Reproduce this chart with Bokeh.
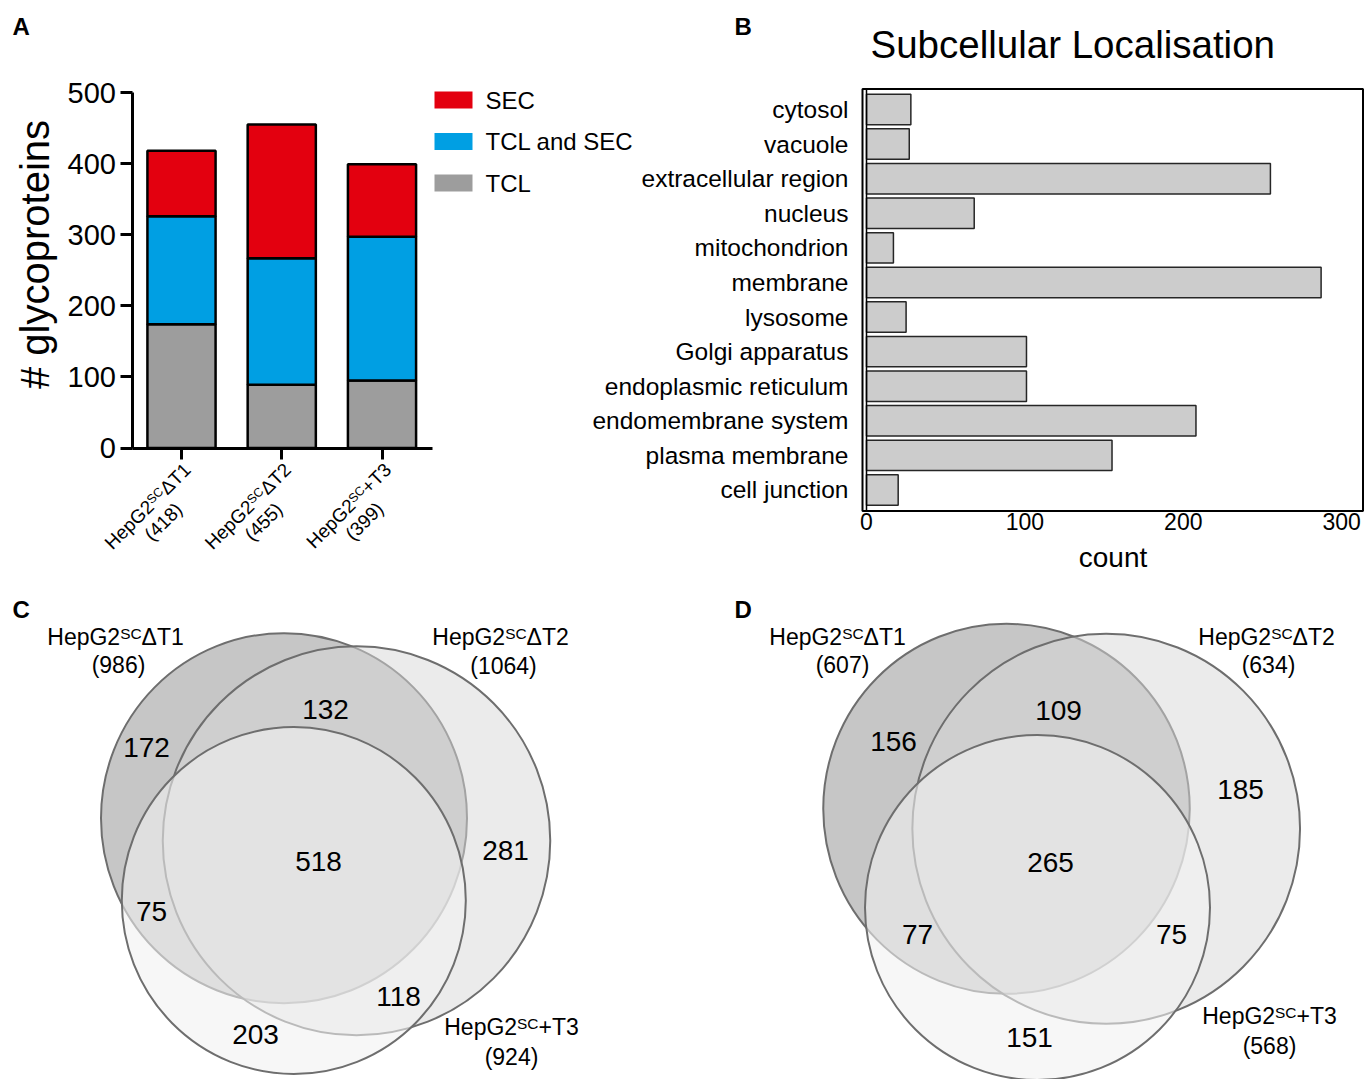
import math
from bokeh.plotting import figure
from bokeh.models import LinearAxis, FixedTicker, Range1d, ColumnDataSource
from bokeh.layouts import column
from bokeh.embed import file_html
from bokeh.resources import INLINE
from bokeh.core.properties import value

FONT = "Liberation Sans"

# ---------------- data ----------------
# Panel A : stacked bars
a_prefix = ["HepG2", "HepG2", "HepG2"]
a_sup = ["SC", "SC", "SC"]
a_suffix = ["\u0394T1", "\u0394T2", "+T3"]
a_totals = [418, 455, 399]
tcl = [174, 89, 95]
tcl_and_sec = [152, 178, 202]
sec = [92, 188, 102]
series_names = ["TCL", "TCL and SEC", "SEC"]
series_colors = ["#9d9d9d", "#009fe3", "#e3000f"]
a_yticks = [0, 100, 200, 300, 400, 500]
a_ylabel = "# glycoproteins"

# Panel B : horizontal bars
locations = ["cytosol", "vacuole", "extracellular region", "nucleus", "mitochondrion",
             "membrane", "lysosome", "Golgi apparatus", "endoplasmic reticulum",
             "endomembrane system", "plasma membrane", "cell junction"]
counts = [28, 27, 255, 68, 17, 287, 25, 101, 101, 208, 155, 20]
b_xticks = [0, 100, 200, 300]
b_title = "Subcellular Localisation"
b_xlabel = "count"

# Panels C / D : Venn diagrams
venn_prefix = ["HepG2", "HepG2", "HepG2"]
venn_sup = ["SC", "SC", "SC"]
venn_suffix = ["\u0394T1", "\u0394T2", "+T3"]
venn_fill = ["#c6c6c6", "#d8d8d8", "#f1f1f1"]
venn_alpha = [1.0, 0.5, 0.58]

c_totals = [986, 1064, 924]
c_ell_x = [283.5, 356.0, 293.3]
c_ell_y = [817.7, 840.3, 900.0]
c_ell_w = [366.0, 387.5, 344.0]
c_ell_h = [370.0, 389.0, 347.0]
c_counts = [172, 132, 281, 75, 518, 118, 203]
c_count_x = [146, 325, 505, 151, 318, 398, 255]
c_count_y = [747, 709, 850, 911, 861, 996, 1034]
c_label_x = [115, 500, 511]
c_label_y = [636, 636, 1026]
c_total_x = [118, 503, 511]
c_total_y = [664, 665, 1056]

d_totals = [607, 634, 568]
d_ell_x = [1006.0, 1105.7, 1037.0]
d_ell_y = [808.3, 828.3, 907.0]
d_ell_w = [366.5, 387.7, 345.0]
d_ell_h = [370.0, 390.0, 345.0]
d_counts = [156, 109, 185, 77, 265, 75, 151]
d_count_x = [893, 1058, 1240, 917, 1050, 1171, 1029]
d_count_y = [741, 710, 789, 934, 862, 934, 1037]
d_label_x = [837, 1266, 1269]
d_label_y = [636, 636, 1015]
d_total_x = [842, 1268, 1269]
d_total_y = [664, 664, 1045]

# --------------- helpers ---------------
WID = {'H': .722, 'e': .556, 'p': .556, 'G': .778, 'S': .667, 'C': .722,
       '\u0394': .668, 'T': .611, '+': .584, '(': .333, ')': .333}


def tw(s, size):
    return sum(WID.get(ch, .556) for ch in s) * size


def style_text(r, size, bold=False, align="left"):
    g = r.glyph
    g.text_font = value(FONT)
    g.text_font_size = size
    g.text_color = "black"
    g.text_align = align
    g.text_baseline = "alphabetic"
    if bold:
        g.text_font_style = "bold"


def base_fig(w, h, xr, yr):
    p = figure(width=w, height=h, x_range=xr, y_range=yr, output_backend="svg",
               toolbar_location=None, x_axis_location=None, y_axis_location=None,
               min_border=0)
    p.outline_line_color = None
    p.background_fill_color = "white"
    p.border_fill_color = "white"
    p.xgrid.visible = False
    p.ygrid.visible = False
    return p


TOP_W, TOP_H = 1365, 588
BOT_H = 491

# ---------------- Panel A (default ranges of top figure) ----------------
A_CAT1, A_STEP = 181.0, 100.25
A_ZERO, A_SCALE = 447.5, 0.711


def ax(px):
    return 1 + (px - A_CAT1) / A_STEP


def ay(py):
    return (A_ZERO - py) / A_SCALE


# ---------------- Panel B (extra ranges) ----------------
B_ZERO, B_SCALE = 866.0, 1.584
B_TOP, B_STEP = 109.0, 34.59
NCAT = len(locations)


def bx(px):
    return (px - B_ZERO) / B_SCALE


def by(py):
    return NCAT - (py - B_TOP) / B_STEP


top = base_fig(TOP_W, TOP_H, Range1d(ax(0), ax(TOP_W)), Range1d(ay(TOP_H), ay(0)))
top.extra_x_ranges = {"bx": Range1d(bx(0), bx(TOP_W))}
top.extra_y_ranges = {"by": Range1d(by(TOP_H), by(0))}

# ---- A: bars
xs = [i + 1 for i in range(len(a_totals))]
src = ColumnDataSource(dict(x=xs, **{n: v for n, v in zip(series_names, [tcl, tcl_and_sec, sec])}))
top.vbar_stack(series_names, x='x', width=0.68, fill_color=series_colors,
               line_color="black", line_width=2.5, source=src)

yax = LinearAxis(fixed_location=ax(131.5), bounds=(0, 500), ticker=FixedTicker(ticks=a_yticks))
yax.axis_line_width = 3
yax.axis_line_color = "black"
yax.major_tick_line_width = 3
yax.major_tick_out = 12
yax.major_tick_in = 0
yax.minor_tick_line_color = None
yax.major_label_text_font = FONT
yax.major_label_text_font_size = "29px"
yax.major_label_text_color = "black"
yax.major_label_standoff = 4
top.add_layout(yax, "left")

r = top.text(x=[ax(34)], y=[ay(254)], text=[a_ylabel], angle=math.pi / 2)
style_text(r, "40px", align="center")

xax = LinearAxis(fixed_location=0, bounds=(ax(131.5), ax(432)), ticker=FixedTicker(ticks=xs))
xax.axis_line_width = 3
xax.axis_line_color = "black"
xax.major_tick_line_width = 3
xax.major_tick_out = 11
xax.major_tick_in = 0
xax.minor_tick_line_color = None
xax.major_label_text_color = None
top.add_layout(xax, "below")

# rotated category labels (anchored on the cap-centre line of the text)
ang = math.pi / 4
ux, uy = math.cos(ang), -math.sin(ang)
upx, upy = -math.sin(ang), -math.cos(ang)
f1, fs = 19.0, 12.5
rise = 0.358 * (f1 - fs)
ex, ey = 6.0, 466.0 - A_ZERO
LH = 22.0
groups = {k: dict(x=[], y=[], t=[], xo=[], yo=[]) for k in ("pre", "sup", "suf", "tot")}
for i in range(len(a_totals)):
    w1, w2, w3 = tw(a_prefix[i], f1), tw(a_sup[i], fs), tw(a_suffix[i], f1)
    L = w1 + w2 + w3
    sx, sy = ex - L * ux, ey - L * uy
    items = [("pre", a_prefix[i], sx, sy),
             ("sup", a_sup[i], sx + w1 * ux + rise * upx, sy + w1 * uy + rise * upy),
             ("suf", a_suffix[i], sx + (w1 + w2) * ux, sy + (w1 + w2) * uy),
             ("tot", "(%d)" % a_totals[i], ex - L / 2 * ux - LH * upx, ey - L / 2 * uy - LH * upy)]
    for k, t, ox, oy in items:
        groups[k]["x"].append(xs[i])
        groups[k]["y"].append(0)
        groups[k]["t"].append(t)
        groups[k]["xo"].append(ox)
        groups[k]["yo"].append(oy)
for k, d in groups.items():
    r = top.text(x="x", y="y", text="t", x_offset="xo", y_offset="yo", angle=ang,
                 source=ColumnDataSource(d))
    style_text(r, "%.1fpx" % (fs if k == "sup" else f1), align="center" if k == "tot" else "left")

# legend
leg_rows = [99.5, 141.0, 182.5]
order = [2, 1, 0]
top.quad(left=ax(434), right=ax(472), top=[ay(c - 8.5) for c in leg_rows],
         bottom=[ay(c + 8.5) for c in leg_rows], fill_color=[series_colors[k] for k in order],
         line_color=None)
r = top.text(x=[ax(485)] * 3, y=[ay(c) for c in leg_rows], text=[series_names[k] for k in order])
style_text(r, "24px")
r = top.text(x=[ax(12)], y=[ay(25.5)], text=["A"])
style_text(r, "24px", bold=True)

# ---- B: bars
pos = [NCAT - i for i in range(NCAT)]
top.hbar(y=pos, left=0, right=counts, height=0.88, fill_color="#cccccc",
         line_color="#262626", line_width=1.5, x_range_name="bx", y_range_name="by")
top.quad(left=[bx(862.0)], right=[bx(1362.5)], top=[by(88.5)], bottom=[by(510.5)],
         fill_color=None, line_color="black", line_width=2, x_range_name="bx", y_range_name="by")

byax = LinearAxis(x_range_name="bx", y_range_name="by", fixed_location=0,
                  bounds=(by(510.5), by(88.5)), ticker=FixedTicker(ticks=pos),
                  major_label_overrides={p_: n for p_, n in zip(pos, locations)})
byax.axis_line_color = "black"
byax.axis_line_width = 1.5
byax.major_tick_line_color = None
byax.minor_tick_line_color = None
byax.major_tick_out = 0
byax.major_tick_in = 0
byax.major_label_standoff = 18
byax.major_label_text_font = FONT
byax.major_label_text_font_size = "24.5px"
byax.major_label_text_color = "black"
top.add_layout(byax, "left")

bxax = LinearAxis(x_range_name="bx", y_range_name="by", fixed_location=by(510.5),
                  bounds=(bx(862.0), bx(1362.5)), ticker=FixedTicker(ticks=b_xticks),
                  axis_label=b_xlabel)
bxax.axis_line_color = None
bxax.major_tick_line_color = None
bxax.minor_tick_line_color = None
bxax.major_tick_out = 0
bxax.major_tick_in = 0
bxax.major_label_standoff = 2
bxax.major_label_text_font = FONT
bxax.major_label_text_font_size = "23px"
bxax.major_label_text_color = "black"
bxax.axis_label_text_font = FONT
bxax.axis_label_text_font_size = "28px"
bxax.axis_label_text_font_style = "normal"
bxax.axis_label_text_color = "black"
bxax.axis_label_standoff = 8
top.add_layout(bxax, "below")

r = top.text(x=[bx(870)], y=[by(43.5)], text=[b_title], x_range_name="bx", y_range_name="by")
style_text(r, "38.5px")
r = top.text(x=[bx(734)], y=[by(25.5)], text=["B"], x_range_name="bx", y_range_name="by")
style_text(r, "24px", bold=True)

# ---------------- Panels C / D (one figure, pixel coordinates) ----------------
bot = base_fig(TOP_W, BOT_H, Range1d(0, TOP_W), Range1d(TOP_H + BOT_H, TOP_H))


def venn(p, letter, lpx, ex_, ey_, ew, eh, totals, cnt, cx, cy, lx, ly, tx, ty):
    p.ellipse(x=ex_, y=ey_, width=ew, height=eh, fill_color=venn_fill, fill_alpha=venn_alpha,
              line_color="#6e6e6e", line_width=2)
    r = p.text(x=cx, y=cy, text=[str(c) for c in cnt])
    style_text(r, "28px", align="center")
    F, FS = 23.0, 15.4
    rs = 0.358 * (F - FS)
    g = {k: dict(x=[], y=[], t=[]) for k in ("pre", "sup", "suf")}
    for k in range(3):
        w1, w2, w3 = tw(venn_prefix[k], F), tw(venn_sup[k], FS), tw(venn_suffix[k], F)
        L = w1 + w2 + w3
        s = lx[k] - L / 2
        g["pre"]["x"].append(s); g["pre"]["y"].append(ly[k]); g["pre"]["t"].append(venn_prefix[k])
        g["sup"]["x"].append(s + w1); g["sup"]["y"].append(ly[k] - rs); g["sup"]["t"].append(venn_sup[k])
        g["suf"]["x"].append(s + w1 + w2); g["suf"]["y"].append(ly[k]); g["suf"]["t"].append(venn_suffix[k])
    for k, d in g.items():
        r = p.text(x="x", y="y", text="t", source=ColumnDataSource(d))
        style_text(r, "%.1fpx" % (FS if k == "sup" else F))
    r = p.text(x=tx, y=ty, text=["(%d)" % t for t in totals])
    style_text(r, "23px", align="center")
    r = p.text(x=[lpx], y=[608.5], text=[letter])
    style_text(r, "24px", bold=True)


venn(bot, "C", 12, c_ell_x, c_ell_y, c_ell_w, c_ell_h, c_totals, c_counts, c_count_x,
     c_count_y, c_label_x, c_label_y, c_total_x, c_total_y)
venn(bot, "D", 734, d_ell_x, d_ell_y, d_ell_w, d_ell_h, d_totals, d_counts, d_count_x,
     d_count_y, d_label_x, d_label_y, d_total_x, d_total_y)

layout = column(top, bot)
open("out.html", "w").write(file_html(layout, INLINE))
